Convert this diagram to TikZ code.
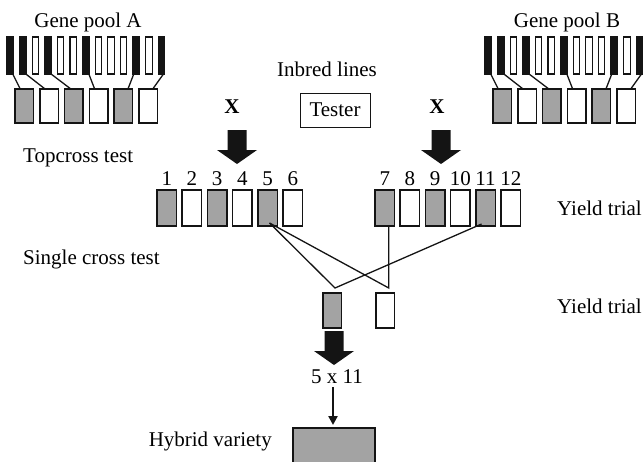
\documentclass[tikz,border=0pt]{standalone}
\usepackage{fontspec}
\setmainfont{Liberation Serif}
\usetikzlibrary{calc,arrows.meta}
\definecolor{ink}{HTML}{141414}
\definecolor{cellgray}{HTML}{A3A3A3}
\begin{document}
\begin{tikzpicture}[x=1pt,y=-1pt,
  lbl/.style={font=\fontsize{21}{25}\selectfont, inner sep=0pt},
  xmark/.style={font=\fontsize{21}{25}\selectfont\bfseries, inner sep=0pt},
  bar/.style={draw=ink, fill=#1, line width=1.1pt, minimum width=6.5pt, minimum height=37pt, inner sep=0pt, outer sep=0pt, anchor=north west},
  cell/.style={draw=ink, fill=#1, line width=1.5pt, minimum width=18.5pt, minimum height=35pt, inner sep=0pt, outer sep=0pt, anchor=north west},
  link/.style={line width=1.3pt, draw=ink},
  bigarrow/.pic={\fill[ink] (-9.5,0) -- (9.5,0) -- (9.5,20) -- (20,20) -- (0,34) -- (-20,20) -- (-9.5,20) -- cycle;}
]
\useasboundingbox (0,0) rectangle (644,461);

% gene pools
\foreach \p/\dx in {A/0,B/478} {
  \foreach \i/\c in {0/ink,1/ink,2/white,3/ink,4/white,5/white,6/ink,7/white,8/white,9/white,10/ink,11/white,12/ink}
    \node[bar=\c] (g\p\i) at ({\dx+7+12.6*\i},37) {};
  \foreach \k/\c in {1/cellgray,2/white,3/cellgray,4/white,5/cellgray,6/white}
    \node[cell=\c, minimum height=34pt] (b\p\k) at ({\dx+15+24.8*(\k-1)},89) {};
  \draw[link] ($(g\p0.south)+(2.5,0)$) -- ($(b\p1.north)+(-4,0)$);
  \draw[link] ($(g\p1.south)+(3,0)$) -- ($(b\p2.north)+(-4,0)$);
  \draw[link] ($(g\p3.south)+(3,0)$) -- ($(b\p3.north)+(-3,0)$);
  \draw[link] ($(g\p6.south)+(3,0)$) -- ($(b\p4.north)+(-4,0)$);
  \draw[link] ($(g\p10.south)+(-2.5,0)$) -- ($(b\p5.north)+(4.5,0)$);
  \draw[link] ($(g\p12.south)+(2,0)$) -- ($(b\p6.north)+(4.5,0)$);
}
\node[lbl, anchor=base] (gpA) at (88,27) {Gene pool A};
\node[lbl, anchor=base] (gpB) at (567,27) {Gene pool B};

% inbred lines / tester
\node[lbl, anchor=base] (inbred) at (327,76) {Inbred lines};
\node[lbl, draw=ink, line width=1pt, minimum width=70pt, minimum height=34pt] (tester) at (335,110) {Tester};
\node[xmark, anchor=base] (xL) at (232,113) {X};
\node[xmark, anchor=base] (xR) at (437,113) {X};
\pic at (237,130) {bigarrow};
\pic at (441,130) {bigarrow};

\node[lbl, anchor=base west] (topc) at (23,162) {Topcross test};
\node[lbl, anchor=base west] (single) at (23,264) {Single cross test};
\node[lbl, anchor=base west] (yt1) at (557,215) {Yield trial};
\node[lbl, anchor=base west] (yt2) at (557,313) {Yield trial};

% test row
\foreach \k/\c in {1/cellgray,2/white,3/cellgray,4/white,5/cellgray,6/white} {
  \node[cell=\c, minimum width=19.5pt, minimum height=36pt] (n\k) at ({157+25.2*(\k-1)},190) {};
  \node[lbl, anchor=base] (l\k) at ($(n\k.north)+(0,-5)$) {\k};
}
\foreach \k/\c in {7/cellgray,8/white,9/cellgray,10/white,11/cellgray,12/white} {
  \node[cell=\c, minimum width=19.5pt, minimum height=36pt] (n\k) at ({375+25.2*(\k-7)},190) {};
  \node[lbl, anchor=base] (l\k) at ($(n\k.north)+(0,-5)$) {\k};
}

% single crosses
\coordinate (p5) at ($(n5.south)+(2,-3)$);
\coordinate (p11) at ($(n11.south)+(-4,-2)$);
\coordinate (p7) at ($(n7.south)+(4,0)$);
\coordinate (vL) at (335,288);
\coordinate (vR) at (p7 |- vL);
\draw[link] (p5) -- (vL) -- (p11);
\draw[link] (p5) -- (vR) -- (p7);

\node[cell=cellgray] (lg) at (323,293) {};
\node[cell=white] (lw) at (376,293) {};

\pic at (334,331) {bigarrow};
\node[lbl, anchor=base] (f511) at (337,383) {5 x 11};
\node[cell=cellgray, minimum width=82pt, minimum height=36pt] (hyb) at (293,428) {};
\coordinate (tA) at (333,387);
\draw[line width=2.5pt, ink, -{Triangle[length=9pt,width=9pt]}] (tA) -- ($(tA |- hyb.north)+(0,-3)$);
\node[lbl, anchor=base east] (hv) at (272,446) {Hybrid variety};
\end{tikzpicture}
\end{document}
